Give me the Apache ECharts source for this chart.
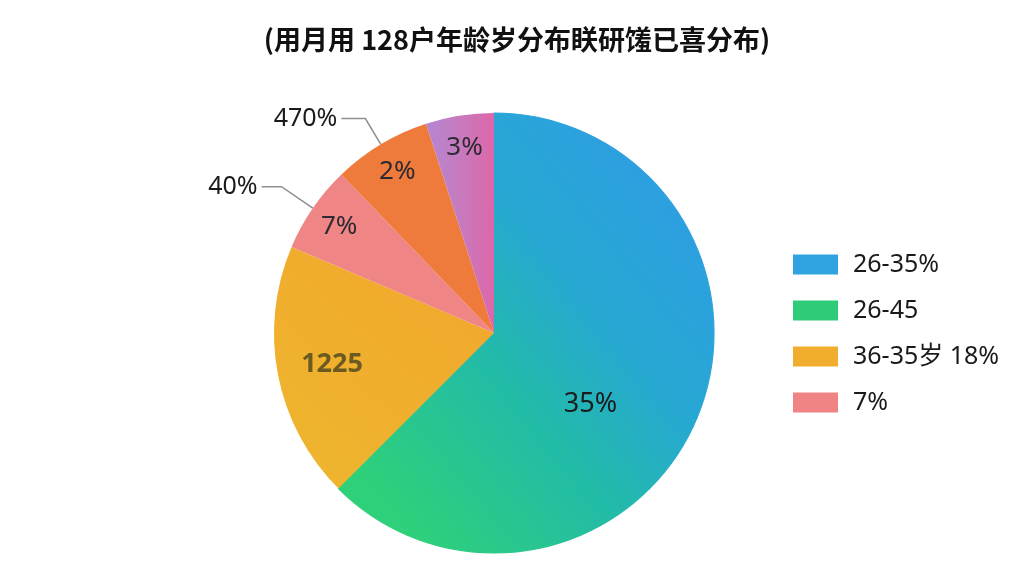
<!DOCTYPE html>
<html><head><meta charset="utf-8">
<script src="https://cdn.jsdelivr.net/npm/echarts@6/dist/echarts.min.js"></script>
<style>html,body{margin:0;background:#fff}#c{width:1024px;height:576px}</style>
</head><body><div id="c"></div>
<script>
// ---- data ----
const titleText = '(用月用 128户年龄岁分布眹研馐已喜分布)';
const categories = ['26-35%', '26-45', '36-35岁 18%', '7%', '橙色', '紫色'];
const values = [37.5, 25.0, 18.9, 6.4, 7.2, 5.0];
const innerLabels = ['', '', '1225', '7%', '2%', '3%'];
const outerLabels = ['', '', '', '40%', '470%', ''];
const mergedLabel = '35%';
const legendNames = ['26-35%', '26-45', '36-35岁 18%', '7%'];
const legendColors = ['#2ea3df', '#2ecc78', '#f1ad2d', '#f08383'];

// ---- styling ----
const CX = 494, CY = 333, R = 220;
const G = echarts.graphic;
function blueGreen() {
  return new G.LinearGradient(725, 250, 400, 520, [
    {offset: 0, color: '#2d9fe1'},
    {offset: 0.33, color: '#27a8d2'},
    {offset: 0.6, color: '#22bba8'},
    {offset: 1, color: '#2ed07a'}
  ], true);
}
const yellow = new G.LinearGradient(300, 470, 480, 260, [
  {offset: 0, color: '#eeb52e'},
  {offset: 1, color: '#f2a72d'}
], true);
const purple = new G.LinearGradient(430, 0, 492, 0, [
  {offset: 0, color: '#b685cf'},
  {offset: 0.45, color: '#c67bbf'},
  {offset: 1, color: '#dc68ab'}
], true);
const fills = [blueGreen(), blueGreen(), yellow, '#f08585', '#ee7a3b', purple];
const borders = [blueGreen(), blueGreen(), null, null, null, null];

const baseFont = '"Noto Sans", "Noto Sans CJK SC", sans-serif';

function overlay(radius, data, extra) {
  return Object.assign({
    type: 'pie', center: [CX, CY], radius: radius, clockwise: true, startAngle: 90,
    silent: true, legendHoverLink: false, avoidLabelOverlap: false,
    emphasis: {disabled: true}, itemStyle: {color: 'rgba(0,0,0,0)'},
    data: data
  }, extra || {});
}

function labelled(texts, labelStyle, lineStyles) {
  return categories.map((n, i) => ({
    name: n, value: values[i],
    label: texts[i] ? Object.assign({show: true, formatter: texts[i]}, labelStyle) : {show: false},
    labelLine: texts[i] && lineStyles && lineStyles[i] ? lineStyles[i] : {show: false}
  }));
}

const innerStyle = {position: 'inside', fontSize: 26, color: '#2d2a33', fontFamily: baseFont};
const smallInner = ['', '', '', innerLabels[3], innerLabels[4], innerLabels[5]];
const bigInner = ['', '', innerLabels[2], '', '', ''];

const mergedData = [{name: '合并', value: values[0] + values[1],
  label: {show: true, formatter: mergedLabel, position: 'inside', fontSize: 27, color: '#1c1c1c', fontFamily: baseFont}}]
  .concat(categories.slice(2).map((n, i) => ({name: n, value: values[i + 2], label: {show: false}})));

const lineBase = {show: true, smooth: false, lineStyle: {color: '#8f8f8f', width: 1.5}};
const outerLines = [null, null, null,
  Object.assign({length: 38, length2: 20}, lineBase),
  Object.assign({length: 30, length2: 24}, lineBase),
  null];

const option = {
  backgroundColor: '#fff',
  animation: false,
  title: {
    text: titleText, left: 512, top: 21, textAlign: 'center',
    textStyle: {fontSize: 27, fontWeight: 'bold', color: '#111', fontFamily: '"Noto Sans CJK SC", sans-serif'}
  },
  legend: {
    orient: 'vertical', left: 788, top: 247,
    itemWidth: 45, itemHeight: 20, itemGap: 21,
    icon: 'rect',
    selectedMode: false,
    data: legendNames.map((n, i) => ({name: n, itemStyle: {color: legendColors[i], borderWidth: 0}})),
    textStyle: {fontSize: 25, color: '#1a1a1a', fontFamily: baseFont, padding: [0, 0, 0, 10]}
  },
  series: [
    {
      type: 'pie', center: [CX, CY], radius: R, clockwise: true, startAngle: 90,
      avoidLabelOverlap: false, label: {show: false}, labelLine: {show: false},
      emphasis: {disabled: true},
      data: categories.map((n, i) => ({name: n, value: values[i],
        itemStyle: borders[i] ? {color: fills[i], borderColor: borders[i], borderWidth: 1.2} : {color: fills[i], borderWidth: 0}}))
    },
    overlay([150, R], labelled(smallInner, innerStyle)),
    overlay([104, R], labelled(bigInner, {position: 'inside', fontSize: 27, fontWeight: 'bold', color: '#6b5b22', fontFamily: baseFont})),
    overlay([14, R], mergedData, {startAngle: 76}),
    overlay([0, R], labelled(outerLabels,
      {position: 'outside', alignTo: 'none', fontSize: 25, color: '#1a1a1a', fontFamily: baseFont, distanceToLabelLine: 4},
      outerLines))
  ]
};

const chart = echarts.init(document.getElementById('c'), null, {renderer: 'canvas'});
chart.setOption(option);
</script>
</body></html>
